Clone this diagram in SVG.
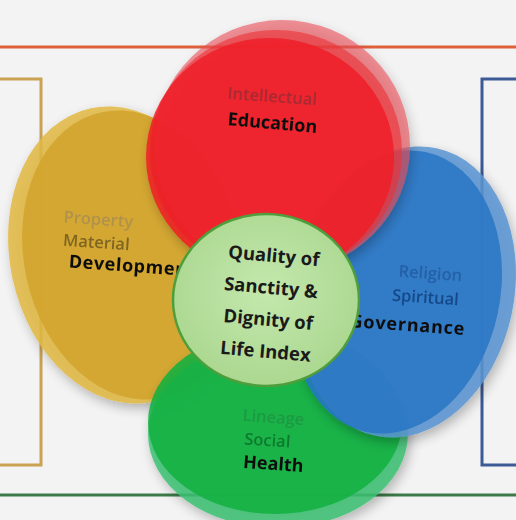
<svg xmlns="http://www.w3.org/2000/svg" width="516" height="520" viewBox="0 0 516 520">
<defs>
<filter id="sh" x="-20%" y="-20%" width="140%" height="140%">
<feGaussianBlur in="SourceAlpha" stdDeviation="6"/>
<feOffset dx="3" dy="5"/>
<feComponentTransfer><feFuncA type="linear" slope="0.3"/></feComponentTransfer>
<feMerge><feMergeNode/><feMergeNode in="SourceGraphic"/></feMerge>
</filter>
<radialGradient id="cg" cx="50%" cy="45%" r="60%">
<stop offset="0" stop-color="#c4e8ad"/><stop offset="1" stop-color="#a9d68e"/>
</radialGradient>
</defs>
<style>
text{font-family:"Open Sans","Noto Sans","Liberation Sans",sans-serif;text-anchor:middle}
.b{font-weight:bold;font-size:18px;fill:#111}
.f{font-size:16.5px;font-weight:600}
.c{font-weight:bold;font-size:18.5px;fill:#1a1a1a}
ellipse.d{fill-opacity:0.85}
ellipse.r{fill-opacity:0.6}
</style>
<rect width="516" height="520" fill="#f3f3f3"/>
<g id="frame" fill="none" stroke-width="3">
<line x1="0" y1="47" x2="516" y2="47" stroke="#e0603c"/>
<line x1="0" y1="495" x2="516" y2="495" stroke="#3c7a48"/>
<polyline points="0,79 41,79 41,465 0,465" stroke="#c9a253"/>
<polyline points="516,79 482,79 482,465 516,465" stroke="#3b5a96"/>
</g>
<g id="gold" filter="url(#sh)">
<ellipse class="d" cx="122" cy="255" rx="112" ry="150" transform="rotate(-12 122 255)" fill="#e2b943"/>
<ellipse class="d" cx="132" cy="255" rx="108" ry="146" transform="rotate(-12 132 255)" fill="#d2a52a"/>
<text class="f" x="98" y="225" fill="#b0924e" transform="rotate(4 98 225)">Property</text>
<text class="f" x="96" y="248" fill="#7f6524" transform="rotate(4 96 248)">Material</text>
<text class="b" x="132" y="272" transform="rotate(4 132 272)" letter-spacing="0.6">Development</text>
</g>
<g id="green" filter="url(#sh)">
<ellipse class="d" cx="278" cy="434" rx="130" ry="94" fill="#3cc173"/>
<ellipse class="d" cx="275" cy="422" rx="127" ry="92" fill="#12b040"/>
<text class="f" x="273" y="423" fill="#1f9a42" transform="rotate(4 273 423)">Lineage</text>
<text class="f" x="267" y="446" fill="#0e7a2e" transform="rotate(4 267 446)">Social</text>
<text class="b" x="273" y="470" transform="rotate(4 273 470)">Health</text>
</g>
<g id="blue" filter="url(#sh)">
<ellipse class="d" cx="406" cy="292" rx="108" ry="147" transform="rotate(12 406 292)" fill="#5a95d2"/>
<ellipse class="d" cx="396" cy="292" rx="104" ry="143" transform="rotate(12 396 292)" fill="#2776c6"/>
<text class="f" x="430" y="279" fill="#2760a6" transform="rotate(4 430 279)">Religion</text>
<text class="f" x="425" y="303" fill="#17488a" transform="rotate(4 425 303)">Spiritual</text>
<text class="b" x="407" y="331" transform="rotate(4 407 331)" font-size="19" letter-spacing="0.8">Governance</text>
</g>
<g id="red" filter="url(#sh)">
<ellipse class="r" cx="282" cy="146" rx="128" ry="126" fill="#ea5058"/>
<ellipse class="r" cx="276" cy="152" rx="126" ry="122" fill="#ec3038"/>
<ellipse class="d" cx="270" cy="157" rx="124" ry="119" fill="#ee1d26"/>
<text class="f" x="272" y="102" fill="#a82a33" transform="rotate(4 272 102)">Intellectual</text>
<text class="b" x="272" y="129" transform="rotate(5 272 129)">Education</text>
</g>
<g id="center">
<ellipse cx="266" cy="300" rx="93" ry="86" fill="url(#cg)" stroke="#4f9e3c" stroke-width="2.5"/>
<g transform="rotate(5 270 300)">
<text class="c" x="270" y="262">Quality of</text>
<text class="c" x="270" y="294">Sanctity &amp;</text>
<text class="c" x="270" y="326">Dignity of</text>
<text class="c" x="270" y="358">Life Index</text>
</g>
</g>
</svg>
